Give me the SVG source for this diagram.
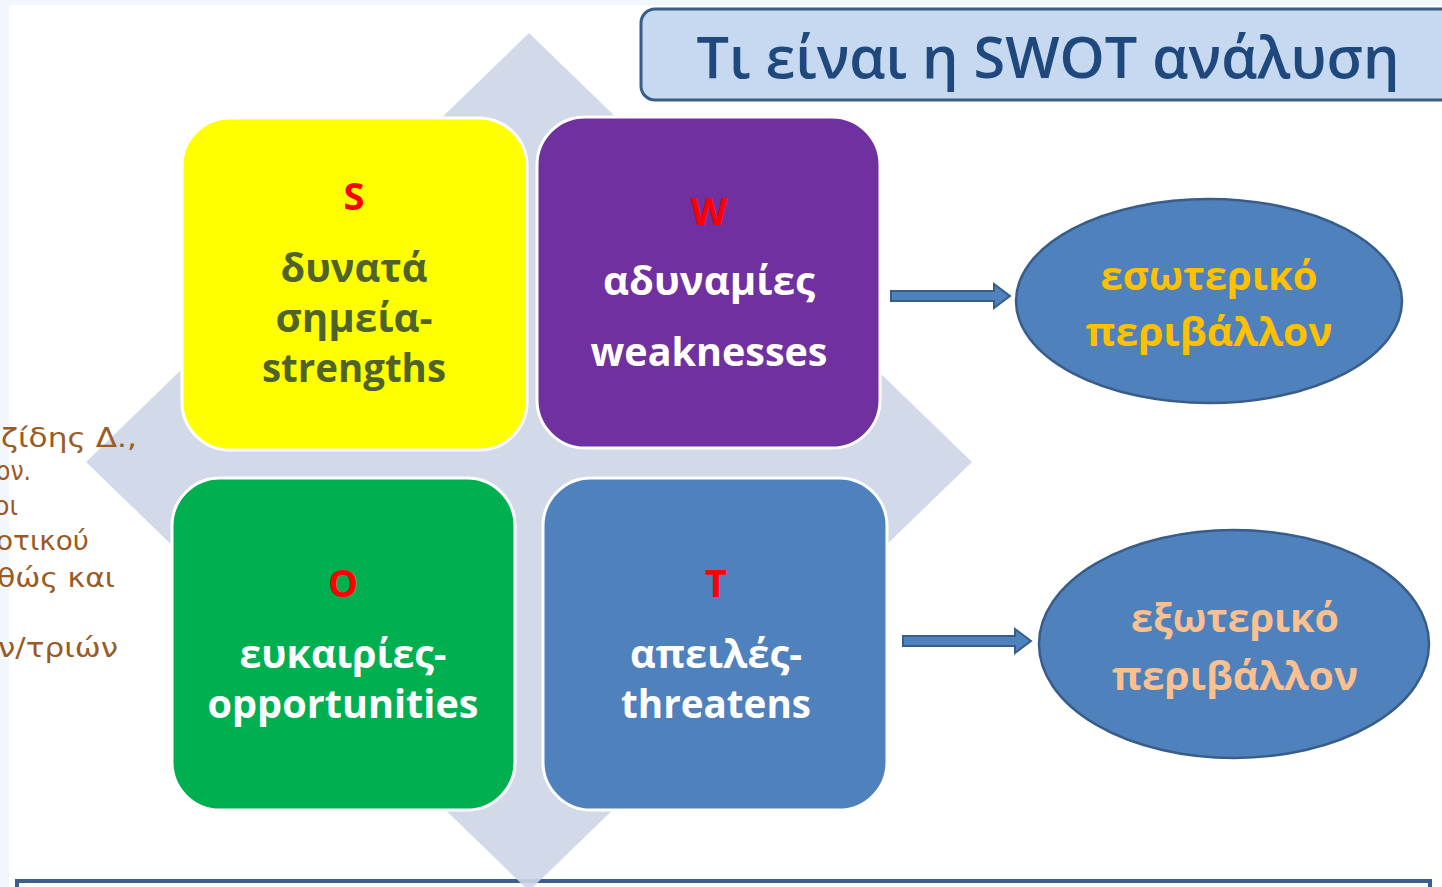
<svg xmlns="http://www.w3.org/2000/svg" width="1442" height="887" viewBox="0 0 1442 887">
<style>
.box{stroke:#FFFFFF;stroke-width:3}
.lbl{font-family:"Open Sans","Noto Sans",sans-serif;font-weight:700;text-anchor:middle}
.let{fill:#FF0000;font-size:38px}
.big{font-size:39px}
.ell{fill:#4F81BD;stroke:#385D8A;stroke-width:2.5}
.arr{fill:#4F81BD;stroke:#385D8A;stroke-width:2}
.note{font-family:"DejaVu Sans",sans-serif;font-size:27px;fill:#9A5B25}
</style>
<rect x="0" y="0" width="1442" height="887" fill="#FFFFFF"/>
<rect x="0" y="0" width="1442" height="5" fill="#F2F7FD"/>
<rect x="0" y="0" width="9" height="887" fill="#F2F7FD"/>

<g id="bottom-frame">
<rect x="17" y="881" width="1413" height="30" fill="#FFFFFF" stroke="#3B5E8C" stroke-width="4"/>
</g>

<g id="diamond">
<polygon points="529,33 972,462 529,891 86,462" fill="#CDD5E6" fill-opacity="0.9"/>
</g>

<g id="notes">
<text class="note" x="1" y="447" textLength="136" lengthAdjust="spacingAndGlyphs">ζίδης Δ.,</text>
<text class="note" x="-4" y="480" textLength="35" lengthAdjust="spacingAndGlyphs">ον.</text>
<text class="note" x="-6" y="515" textLength="24" lengthAdjust="spacingAndGlyphs">οι</text>
<text class="note" x="-4" y="550" textLength="93" lengthAdjust="spacingAndGlyphs">οτικού</text>
<text class="note" x="-3" y="587" textLength="118" lengthAdjust="spacingAndGlyphs">θώς και</text>
<text class="note" x="-2" y="657" textLength="120" lengthAdjust="spacingAndGlyphs">ν/τριών</text>
</g>

<g id="title">
<rect x="641" y="9" width="830" height="91" rx="14" fill="#C6D9F1" stroke="#385D8A" stroke-width="3"/>
<text x="1048" y="78" font-family="Open Sans, Noto Sans, sans-serif" font-size="57" font-weight="600" fill="#1F497D" text-anchor="middle" textLength="703" lengthAdjust="spacingAndGlyphs">Τι είναι η SWOT ανάλυση</text>
</g>

<g id="node-S">
<rect class="box" x="182" y="118" width="345" height="332" rx="48" fill="#FFFF00"/>
<text class="lbl let" x="354" y="210">S</text>
<text class="lbl big" x="354" y="282" fill="#4F6228" textLength="147" lengthAdjust="spacingAndGlyphs">δυνατά</text>
<text class="lbl big" x="354" y="332" fill="#4F6228" textLength="157" lengthAdjust="spacingAndGlyphs">σημεία-</text>
<text class="lbl big" x="354" y="382" fill="#4F6228" textLength="184" lengthAdjust="spacingAndGlyphs">strengths</text>
</g>

<g id="node-W">
<rect class="box" x="537" y="117" width="343" height="331" rx="48" fill="#7030A0"/>
<text class="lbl let" x="709" y="225">W</text>
<text class="lbl big" x="709" y="295" fill="#FFFFFF" textLength="212" lengthAdjust="spacingAndGlyphs">αδυναμίες</text>
<text class="lbl big" x="709" y="366" fill="#FFFFFF" textLength="237" lengthAdjust="spacingAndGlyphs">weaknesses</text>
</g>

<g id="node-O">
<rect class="box" x="172" y="478" width="343" height="332" rx="48" fill="#00B050"/>
<text class="lbl let" x="343" y="597">O</text>
<text class="lbl big" x="343" y="668" fill="#FFFFFF" textLength="207" lengthAdjust="spacingAndGlyphs">ευκαιρίες-</text>
<text class="lbl big" x="343" y="718" fill="#FFFFFF" textLength="271" lengthAdjust="spacingAndGlyphs">opportunities</text>
</g>

<g id="node-T">
<rect class="box" x="543" y="478" width="344" height="332" rx="48" fill="#4F81BD"/>
<text class="lbl let" x="716" y="597">T</text>
<text class="lbl big" x="716" y="668" fill="#FFFFFF" textLength="172" lengthAdjust="spacingAndGlyphs">απειλές-</text>
<text class="lbl big" x="716" y="718" fill="#FFFFFF" textLength="190" lengthAdjust="spacingAndGlyphs">threatens</text>
</g>

<g id="node-internal">
<ellipse class="ell" cx="1209" cy="301" rx="193" ry="102"/>
<text class="lbl big" x="1209" y="290" fill="#FFC000" textLength="217" lengthAdjust="spacingAndGlyphs">εσωτερικό</text>
<text class="lbl big" x="1209" y="346" fill="#FFC000" textLength="247" lengthAdjust="spacingAndGlyphs">περιβάλλον</text>
</g>

<g id="node-external">
<ellipse class="ell" cx="1234" cy="644" rx="195" ry="114"/>
<text class="lbl big" x="1235" y="632" fill="#FAC090" textLength="208" lengthAdjust="spacingAndGlyphs">εξωτερικό</text>
<text class="lbl big" x="1235" y="690" fill="#FAC090" textLength="246" lengthAdjust="spacingAndGlyphs">περιβάλλον</text>
</g>

<g id="connectors">
<polygon class="arr" points="891,291 994,291 994,284 1010,296 994,308 994,301 891,301"/>
<polygon class="arr" points="903,636 1015,636 1015,629 1031,641 1015,653 1015,646 903,646"/>
</g>
</svg>
